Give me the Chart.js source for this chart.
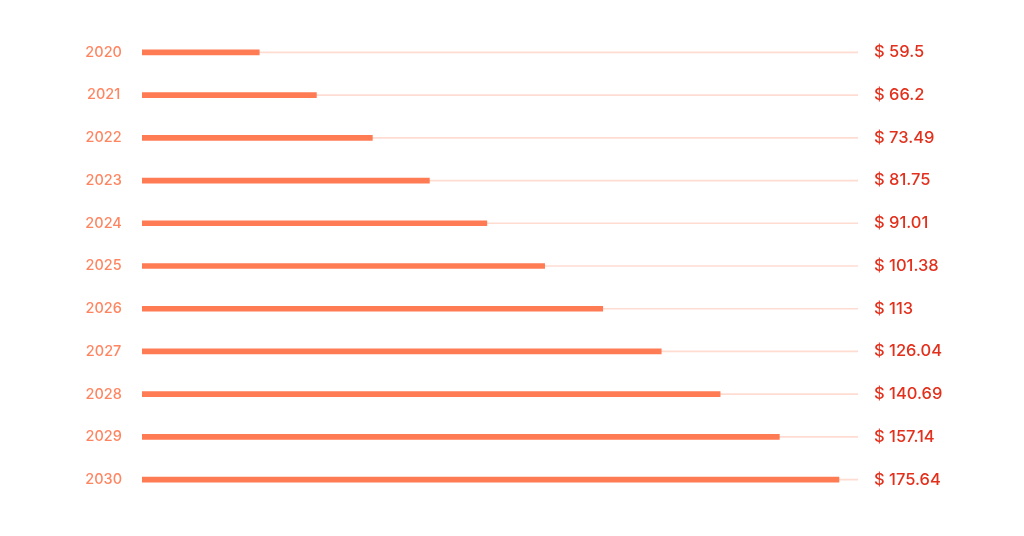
<!DOCTYPE html>
<html>
<head>
<meta charset="utf-8">
<script src="https://cdn.jsdelivr.net/npm/chart.js@4.4.1/dist/chart.umd.min.js"></script>
<style>
  html, body { margin: 0; padding: 0; background: #ffffff; }
  #wrap { width: 1024px; height: 536px; }
</style>
</head>
<body>
<div id="wrap"><canvas id="marche"></canvas></div>
<script>
// annees et taille du marche (milliards $)
let annees = ['2020', '2021', '2022', '2023', '2024', '2025', '2026', '2027', '2028', '2029', '2030'];
let valeurs = [59.5, 66.2, 73.49, 81.75, 91.01, 101.38, 113, 126.04, 140.69, 157.14, 175.64];
let etiquettes = ['$ 59.5', '$ 66.2', '$ 73.49', '$ 81.75', '$ 91.01', '$ 101.38', '$ 113', '$ 126.04', '$ 140.69', '$ 157.14', '$ 175.64'];

// bornes de l'axe (echelle log)
let axeMin = 47.8;
let axeMax = 182;
let piste = annees.map(() => axeMax);

let ctx = document.getElementById('marche').getContext('2d');

let datas = {
    labels: annees,
    datasets: [{
        label: 'marche',
        data: valeurs,
        backgroundColor: '#ff7b54',
        barThickness: 5,
        grouped: false,
        order: 1
    },
    {
        label: 'piste',
        data: piste,
        backgroundColor: '#ffdcd2',
        barThickness: 1,
        grouped: false,
        order: 2
    }]
};

let marcheChart = new Chart(ctx, {
    type: 'bar',
    data: datas,
    options: {
        indexAxis: 'y',
        responsive: true,
        maintainAspectRatio: false,
        animation: false,
        layout: {
            padding: { top: 31, bottom: 35, left: 0, right: 0 }
        },
        scales: {
            x: {
                type: 'logarithmic',
                min: axeMin,
                max: axeMax,
                display: false
            },
            y: {
                position: 'left',
                grid: { display: false },
                border: { display: false },
                ticks: {
                    color: '#ff8561',
                    padding: 12,
                    crossAlign: 'center',
                    font: { family: 'Inter', size: 14.5, weight: '500' }
                },
                afterFit: scale => { scale.width = 142; }
            },
            y2: {
                type: 'category',
                labels: etiquettes,
                position: 'right',
                offset: true,
                grid: { display: false },
                border: { display: false },
                ticks: {
                    color: '#e2301c',
                    padding: 8,
                    font: { family: 'Inter', size: 16.5, weight: '500' }
                },
                afterFit: scale => { scale.width = 166; }
            }
        },
        plugins: {
            legend: { display: false },
            tooltip: { enabled: false }
        }
    }
});
</script>
</body>
</html>
